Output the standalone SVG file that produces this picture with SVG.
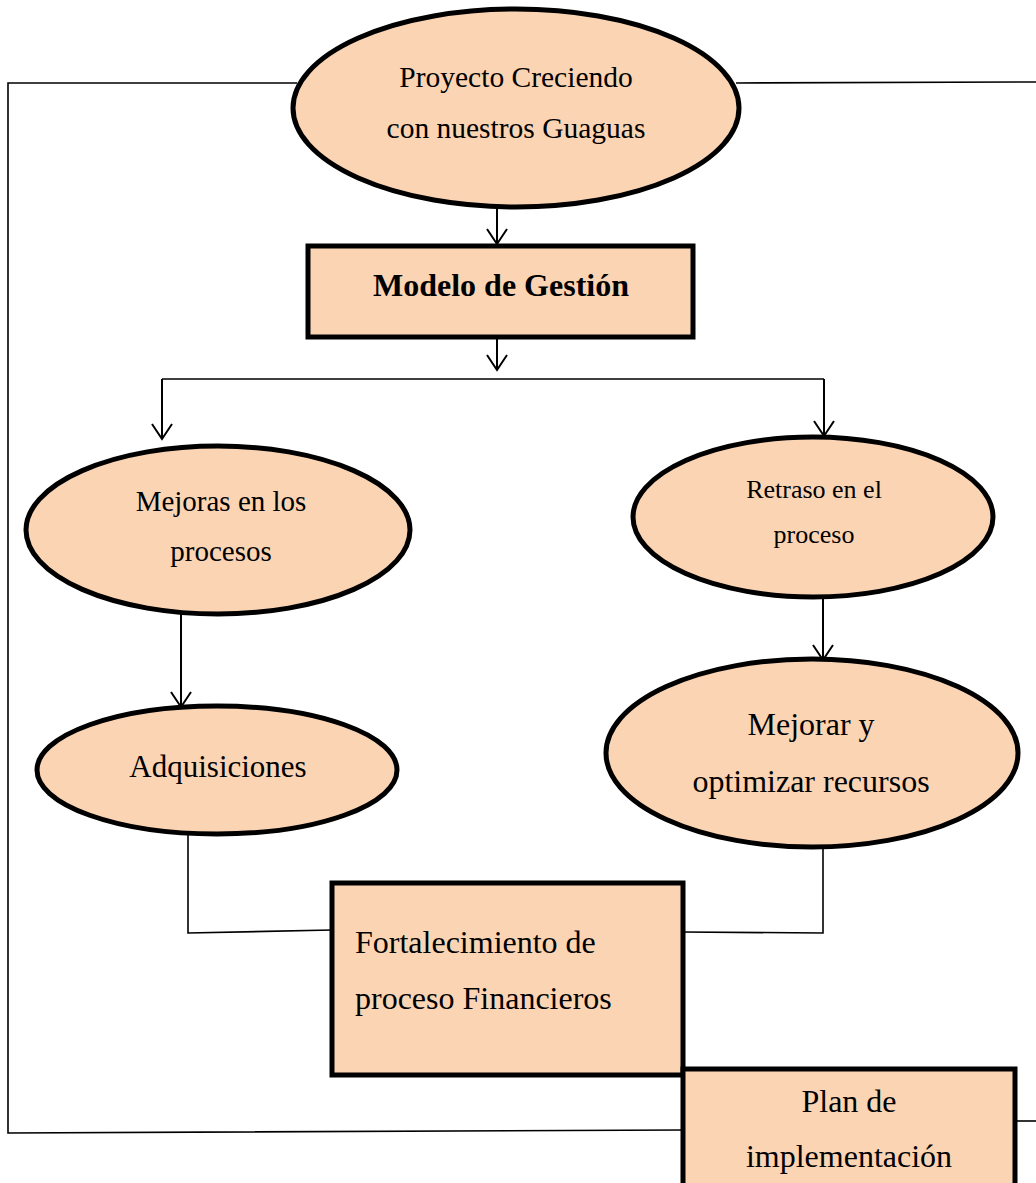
<svg xmlns="http://www.w3.org/2000/svg" width="1036" height="1183" viewBox="0 0 1036 1183">
<style>
.n{fill:#FBD4B4;stroke:#000;stroke-width:5}
.c{fill:none;stroke:#000;stroke-width:1.6}
.a{fill:none;stroke:#000;stroke-width:2}
text{font-family:"Liberation Serif","Times New Roman",serif;fill:#000}
.m{text-anchor:middle}
</style>
<defs>
<marker id="arr" markerUnits="userSpaceOnUse" markerWidth="30" markerHeight="30" viewBox="-20 -15 25 30" refX="0" refY="0" orient="auto" overflow="visible">
<path d="M-15,-10 L0,0 L-15,10" fill="none" stroke="#000" stroke-width="2"/>
</marker>
</defs>
<rect width="1036" height="1183" fill="#fff"/>
<g id="connectors">
<polyline class="c" points="297,83 8,83 8,1133 683,1130"/>
<line class="c" x1="736" y1="83" x2="1036" y2="82"/>
<line class="c" x1="1015" y1="1121" x2="1036" y2="1121"/>
<line class="a" x1="497" y1="200" x2="497" y2="244" marker-end="url(#arr)"/>
<line class="a" x1="497" y1="332" x2="497" y2="370" marker-end="url(#arr)"/>
<line class="c" x1="162" y1="379" x2="824" y2="379"/>
<line class="a" x1="162" y1="379" x2="162" y2="439" marker-end="url(#arr)"/>
<line class="a" x1="824" y1="379" x2="824" y2="436" marker-end="url(#arr)"/>
<line class="a" x1="181" y1="614" x2="181" y2="707" marker-end="url(#arr)"/>
<line class="a" x1="823" y1="597" x2="823" y2="660" marker-end="url(#arr)"/>
<polyline class="c" points="188,835 188,933 332,930"/>
<polyline class="c" points="823,847 823,933 683,932"/>
</g>
<g id="n1">
<ellipse class="n" cx="516" cy="108" rx="223" ry="99"/>
<text class="m" x="516" y="87" font-size="29.5">Proyecto Creciendo</text>
<text class="m" x="516" y="138" font-size="29.5">con nuestros Guaguas</text>
</g>
<g id="n2">
<rect class="n" x="308" y="246" width="385" height="91"/>
<text class="m" x="501" y="296" font-size="32" font-weight="bold">Modelo de Gestión</text>
</g>
<g id="n3">
<ellipse class="n" cx="218" cy="530" rx="192" ry="84"/>
<text class="m" x="221" y="511" font-size="29">Mejoras en los</text>
<text class="m" x="221" y="561" font-size="29">procesos</text>
</g>
<g id="n4">
<ellipse class="n" cx="813" cy="517" rx="180" ry="80"/>
<text class="m" x="814" y="498" font-size="26">Retraso en el</text>
<text class="m" x="814" y="543" font-size="26">proceso</text>
</g>
<g id="n5">
<ellipse class="n" cx="217" cy="770" rx="180" ry="64"/>
<text class="m" x="218" y="777" font-size="31">Adquisiciones</text>
</g>
<g id="n6">
<ellipse class="n" cx="812" cy="753" rx="206" ry="94"/>
<text class="m" x="811" y="735" font-size="32">Mejorar y</text>
<text class="m" x="811" y="792" font-size="32">optimizar recursos</text>
</g>
<g id="n7">
<rect class="n" x="332" y="883" width="351" height="192"/>
<text x="355" y="953" font-size="32">Fortalecimiento de</text>
<text x="355" y="1009" font-size="32">proceso Financieros</text>
</g>
<g id="n8">
<rect class="n" x="683" y="1069" width="332" height="130"/>
<text class="m" x="849" y="1112" font-size="32">Plan de</text>
<text class="m" x="849" y="1167" font-size="32">implementación</text>
</g>
</svg>
